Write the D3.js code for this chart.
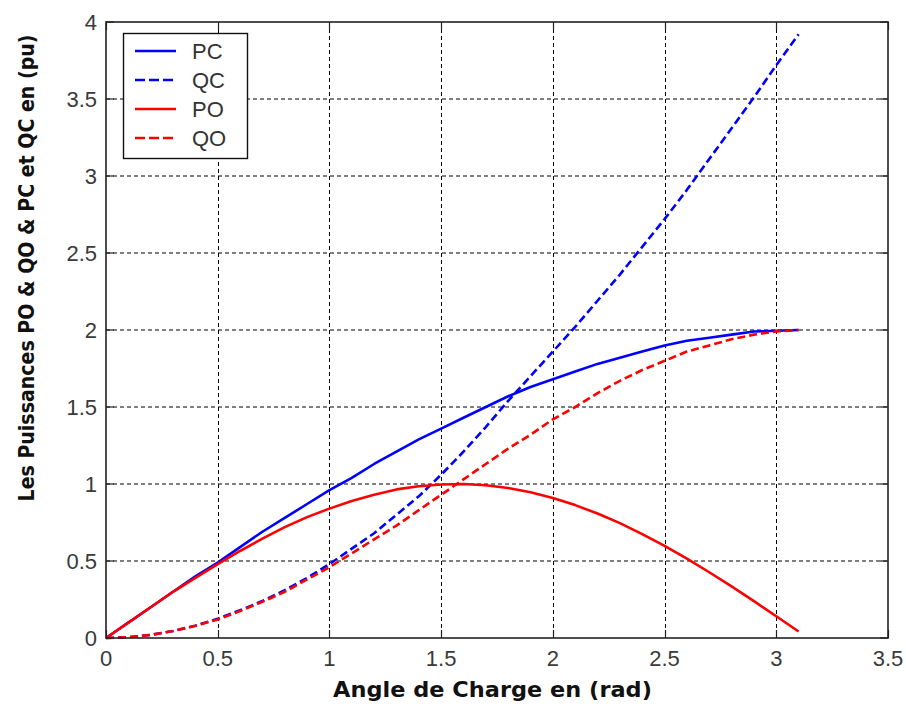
<!DOCTYPE html>
<html><head><meta charset="utf-8">
<script src="https://cdn.jsdelivr.net/npm/d3@7"></script>
<style>body{margin:0;background:#fff}svg{display:block}</style>
</head><body>
<svg id="c" width="906" height="704"></svg>
<script>
const angles = [0,0.1,0.2,0.3,0.4,0.5,0.6,0.7,0.8,0.9,1.0,1.1,1.2,1.3,1.4,1.5,1.6,1.7,1.8,1.9,2.0,2.1,2.2,2.3,2.4,2.5,2.6,2.7,2.8,2.9,3.0,3.1];
const PC = [0,0.10,0.20,0.30,0.40,0.49,0.59,0.69,0.78,0.87,0.96,1.04,1.13,1.21,1.29,1.36,1.43,1.50,1.57,1.63,1.68,1.73,1.78,1.82,1.86,1.90,1.93,1.95,1.97,1.99,1.995,2.0];
const QC = [0,0.005,0.02,0.045,0.08,0.125,0.18,0.24,0.31,0.39,0.48,0.58,0.68,0.80,0.92,1.06,1.21,1.37,1.54,1.70,1.86,2.02,2.19,2.36,2.54,2.72,2.91,3.11,3.31,3.51,3.72,3.92];
const PO = [0,0.10,0.20,0.30,0.39,0.48,0.565,0.645,0.72,0.785,0.84,0.89,0.93,0.965,0.985,0.997,1.0,0.992,0.974,0.946,0.909,0.863,0.808,0.746,0.675,0.598,0.516,0.427,0.335,0.239,0.141,0.042];
const QO = [0,0.005,0.02,0.045,0.08,0.12,0.175,0.235,0.30,0.38,0.46,0.55,0.64,0.73,0.83,0.93,1.03,1.13,1.23,1.32,1.42,1.50,1.59,1.67,1.74,1.80,1.86,1.90,1.94,1.97,1.99,2.0];
const xTicks = [0,0.5,1,1.5,2,2.5,3,3.5];
const yTicks = [0,0.5,1,1.5,2,2.5,3,3.5,4];
const seriesNames = ["PC","QC","PO","QO"];
const seriesColors = ["#0000ff","#0000ff","#ff0000","#ff0000"];
const seriesDashed = [false,true,false,true];
const xTitle = "Angle de Charge en (rad)";
const yTitle = "Les Puissances PO & QO & PC et QC en (pu)";

const svg = d3.select("#c");
const L=106, R=888, T=22, B=638;
const x = d3.scaleLinear().domain([0,3.5]).range([L,R]);
const y = d3.scaleLinear().domain([0,4]).range([B,T]);
const tickFont = "'Liberation Sans', Arial, sans-serif";

// grid
const g = svg.append("g");
g.selectAll(".vg").data(xTicks.slice(1,-1)).join("line")
  .attr("x1",d=>Math.round(x(d))+0.5).attr("x2",d=>Math.round(x(d))+0.5)
  .attr("y1",T).attr("y2",B)
  .attr("stroke","#000").attr("stroke-width",1).attr("stroke-dasharray","4,3");
g.selectAll(".hg").data(yTicks.slice(1,-1)).join("line")
  .attr("x1",L).attr("x2",R).attr("y1",d=>y(d)).attr("y2",d=>y(d))
  .attr("stroke","#000").attr("stroke-width",1).attr("stroke-dasharray","4,3");

// ticks (inward, all sides)
const tk = 8;
xTicks.forEach(d=>{
  const px = Math.round(x(d))+0.5;
  g.append("line").attr("x1",px).attr("x2",px).attr("y1",B).attr("y2",B-tk).attr("stroke","#222").attr("stroke-width",1.2);
  g.append("line").attr("x1",px).attr("x2",px).attr("y1",T).attr("y2",T+tk).attr("stroke","#222").attr("stroke-width",1.2);
});
yTicks.forEach(d=>{
  g.append("line").attr("x1",L).attr("x2",L+tk).attr("y1",y(d)).attr("y2",y(d)).attr("stroke","#222").attr("stroke-width",1.2);
  g.append("line").attr("x1",R).attr("x2",R-tk).attr("y1",y(d)).attr("y2",y(d)).attr("stroke","#222").attr("stroke-width",1.2);
});

// tick labels
svg.append("g").selectAll("text").data(xTicks).join("text")
  .attr("x",d=>x(d)).attr("y",666).attr("text-anchor","middle")
  .attr("font-family",tickFont).attr("font-size",22).attr("fill","#3a3a3a")
  .text(d=>d3.format("~g")(d));
svg.append("g").selectAll("text").data(yTicks).join("text")
  .attr("x",97).attr("y",d=>y(d)+8).attr("text-anchor","end")
  .attr("font-family",tickFont).attr("font-size",22).attr("fill","#3a3a3a")
  .text(d=>d3.format("~g")(d));

// series
const allSeries = [PC,QC,PO,QO];
const line = d3.line().x((d,i)=>x(angles[i])).y(d=>y(d));
allSeries.forEach((s,k)=>{
  svg.append("path").datum(s).attr("d",line)
    .attr("fill","none").attr("stroke",seriesColors[k]).attr("stroke-width",2.6)
    .attr("stroke-linejoin","round")
    .attr("stroke-dasharray",seriesDashed[k]?"8,4":null);
});

// border
svg.append("rect").attr("x",L).attr("y",T).attr("width",R-L).attr("height",B-T)
  .attr("fill","none").attr("stroke","#222").attr("stroke-width",1.6);

// legend
const lg = svg.append("g");
lg.append("rect").attr("x",123.5).attr("y",33.5).attr("width",124).attr("height",125)
  .attr("fill","#fff").attr("stroke","#111").attr("stroke-width",1.4);
const rowsY = [51,80,109,138];
seriesNames.forEach((n,k)=>{
  lg.append("line").attr("x1",135).attr("x2",176).attr("y1",rowsY[k]).attr("y2",rowsY[k])
    .attr("stroke",seriesColors[k]).attr("stroke-width",2.6)
    .attr("stroke-dasharray",seriesDashed[k]?"10,4":null);
  lg.append("text").attr("x",192).attr("y",rowsY[k]+8)
    .attr("font-family",tickFont).attr("font-size",22).attr("fill","#333").text(n);
});

// titles: fit width by font size, then stretch glyph height back to the reference cap height
function fittedTitle(txt, targetLen, baseSize, tx, ty, rot){
  const gg = svg.append("g");
  const t = gg.append("text").attr("text-anchor","middle")
    .attr("font-family","'DejaVu Sans', Verdana, sans-serif").attr("font-weight","bold")
    .attr("font-size",baseSize).attr("fill","#111").text(txt);
  const len = t.node().getComputedTextLength();
  const s = baseSize*targetLen/len;
  t.attr("font-size",s);
  const k = baseSize/s;
  gg.attr("transform",`translate(${tx},${ty}) rotate(${rot}) scale(1,${k})`);
}
fittedTitle(xTitle, 319, 22, 492.5, 697, 0);
fittedTitle(yTitle, 467, 22, 34, 268, -90);
</script>
</body></html>
